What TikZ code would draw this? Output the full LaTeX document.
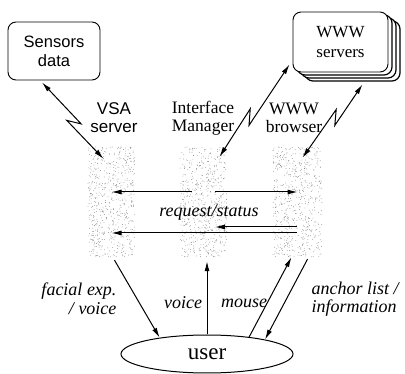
\documentclass[tikz,border=0pt]{standalone}
\usepackage{fontspec}
\setmainfont{Liberation Serif}
\newfontfamily\sansf{Liberation Sans}
\usetikzlibrary{arrows.meta,calc,shapes.geometric}
\tikzset{
  box/.style={draw, rounded corners=8pt, fill=white, line width=0.9pt, align=center, inner sep=0pt},
  block/.style={minimum width=47pt, minimum height=110pt, inner sep=0pt},
  lbl/.style={align=center, font=\fontsize{17.5}{18}\selectfont},
  ital/.style={font=\itshape\fontsize{18}{18.5}\selectfont},
  arr/.style={-{Latex[length=10pt,width=5pt]}, line width=1pt},
  dbl/.style={{Latex[length=10pt,width=5pt]}-{Latex[length=10pt,width=5pt]}, line width=1pt},
  dot/.style={fill=black!55}
}
\begin{document}
\begin{tikzpicture}[x=1pt,y=-1pt]
\useasboundingbox (0,0) rectangle (405,374);

% stippled blocks
\node[block] (vsa) at (111.5,202) {};
\node[block] (im)  at (203.5,202) {};
\node[block, minimum width=49pt] (wb) at (297.5,202) {};
\pgfmathsetseed{4242}
\foreach \bx/\bw in {88/47,180/47,273/49} {
  \foreach \i in {1,...,600} {
    \fill[dot] ({\bx+\bw*rnd},{147+110*rnd}) circle (0.38pt);
  }
}

% boxes
\node[box, minimum width=92pt, minimum height=58pt, font=\sansf\fontsize{16.5}{19}\selectfont] (sens) at (54,51) {Sensors\\data};
\foreach \o/\p in {12/9,8/6,4/3}
  \node[box, line width=1.2pt, minimum width=95pt, minimum height=60pt] at (340.5+\o,42+\p) {};
\node[box, minimum width=95pt, minimum height=60pt, font=\fontsize{17}{20}\selectfont] (wsrv) at (340.5,42) {WWW\\servers};

% labels above blocks
\node[lbl, font=\sansf\fontsize{17}{18}\selectfont] (lvsa) at (114,118) {VSA\\server};
\node[lbl] (lim) at (203,118) {Interface\\Manager};
\node[lbl] (lwb) at (294,118) {WWW\\browser};

% user
\node[draw, ellipse, line width=1pt, minimum width=172pt, minimum height=38pt, inner sep=0pt,
      font=\fontsize{23}{24}\selectfont] (user) at (207,354) {user};

% lightning links
\coordinate (sA) at ($(sens.south)+(-12,2)$);
\coordinate (sB) at ($(vsa.north)+(-8,12)$);
\draw[dbl] (sA) -- ($(sA)!0.58!(sB)!4.5pt!90:(sB)$) -- ($(sA)!0.46!(sB)!4.5pt!-90:(sB)$) -- (sB);
\coordinate (iA) at ($(im.north)+(16,10)$);
\coordinate (iB) at ($(wsrv.south west)+(-3,-8)$);
\draw[dbl] (iA) -- ($(iA)!0.49!(iB)!4.5pt!90:(iB)$) -- ($(iA)!0.37!(iB)!4.5pt!-90:(iB)$) -- (iB);
\coordinate (wA) at ($(wb.north)+(5,11)$);
\coordinate (wB) at ($(wsrv.south)+(22,12)$);
\draw[dbl] (wA) -- ($(wA)!0.62!(wB)!4.5pt!90:(wB)$) -- ($(wA)!0.48!(wB)!4.5pt!-90:(wB)$) -- (wB);

% request/status arrows
\coordinate (r1) at (192,192);
\coordinate (r2) at (215,192);
\coordinate (r3) at (297,227);
\coordinate (r4) at (297,233);
\draw[arr] (r1) -- (vsa.center |- r1);
\draw[arr] (r2) -- (wb.center |- r2);
\draw[arr] (r3) -- (r2 |- r3);
\draw[arr] (r4) -- (vsa.center |- r4);
\node[ital] (rs) at (209,212) {request/status};

% user links
\draw[arr] ($(vsa.south)+(3,3)$) -- (user.161);
\draw[arr] (user.north) -- ($(user.north |- im.south)+(0,4)$);
\draw[arr] (user.22) -- ($(wb.south)+(-6,0)$);
\draw[arr] ($(wb.south)+(10,2)$) -- (user.14);

% italic labels
\node[ital, align=right, anchor=east] (lf) at (120,299) {facial exp.\\/ voice};
\node[ital] (lv) at (183,303) {voice};
\node[ital] (lm) at (244,303) {mouse};
\node[ital, align=left, anchor=west] (la) at (308,299) {anchor list /\\information};
\end{tikzpicture}
\end{document}
